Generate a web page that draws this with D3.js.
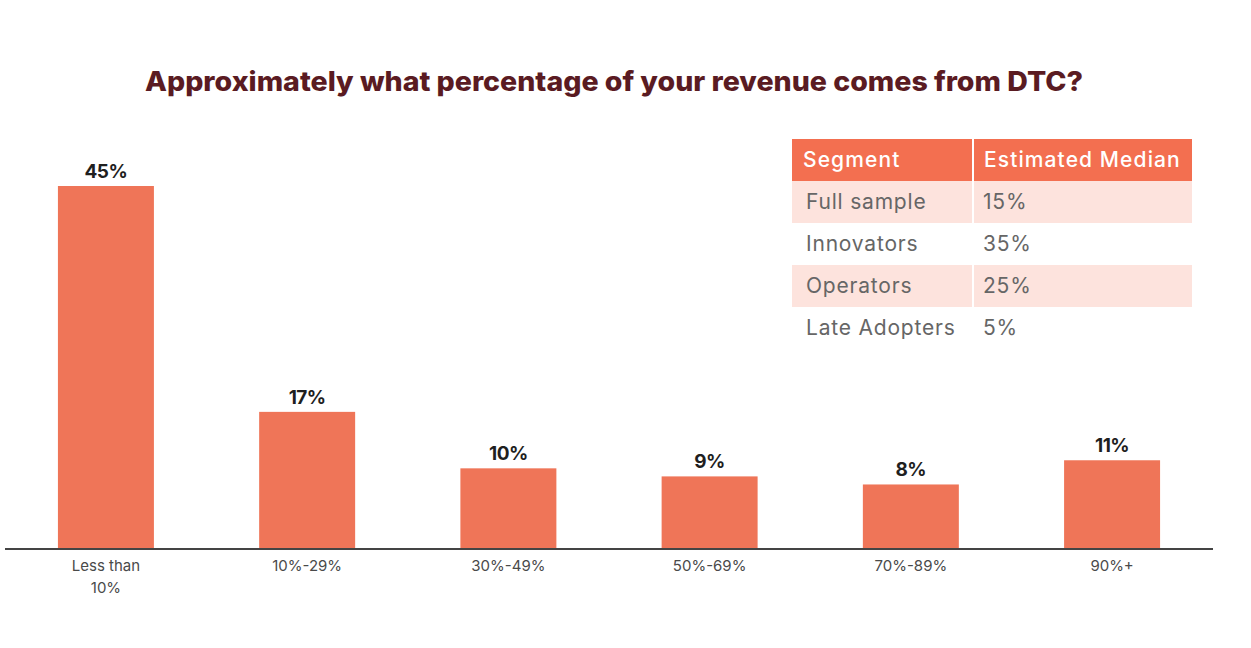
<!DOCTYPE html>
<html>
<head>
<meta charset="utf-8">
<script src="https://cdn.jsdelivr.net/npm/d3@7"></script>
<style>
  html, body { margin: 0; padding: 0; background: #ffffff; }
  svg { display: block; }
</style>
</head>
<body>
<div id="chart"></div>
<script>
// ---- Data ----
const titleText = "Approximately what percentage of your revenue comes from DTC?";
const categories = ["Less than\n10%", "10%-29%", "30%-49%", "50%-69%", "70%-89%", "90%+"];
const shares = [45, 17, 10, 9, 8, 11];
const valueLabels = ["45%", "17%", "10%", "9%", "8%", "11%"];
const tableHeader = ["Segment", "Estimated Median"];
const segments = ["Full sample", "Innovators", "Operators", "Late Adopters"];
const medians = ["15%", "35%", "25%", "5%"];

// ---- Layout ----
const W = 1251, H = 648;
const FONT = "Inter, 'Open Sans', 'Noto Sans', sans-serif";
const barColor = "#EF7558";
const headerColor = "#F36F50";
const stripeColor = "#FDE3DD";

const svg = d3.select("#chart").append("svg")
  .attr("width", W).attr("height", H);

// Title
svg.append("text")
  .attr("x", 614).attr("y", 91)
  .attr("text-anchor", "middle")
  .attr("font-family", FONT)
  .attr("font-weight", 800)
  .attr("font-size", 27)
  .attr("fill", "#5A1B22")
  .attr("textLength", 938)
  .attr("lengthAdjust", "spacingAndGlyphs")
  .text(titleText);

// Scales
const axisY = 549;
const x = d3.scaleBand()
  .domain(categories)
  .range([5, 1213])
  .paddingInner(0.523)
  .paddingOuter(0.263);

const y = d3.scaleLinear()
  .domain([0, 45])
  .range([axisY, 186]);

// Bars
const g = svg.append("g");
g.selectAll("rect.bar")
  .data(shares)
  .join("rect")
  .attr("class", "bar")
  .attr("x", (d, i) => x(categories[i]))
  .attr("y", d => y(d))
  .attr("width", x.bandwidth())
  .attr("height", d => axisY - y(d))
  .attr("fill", barColor);

// Value labels
g.selectAll("text.val")
  .data(shares)
  .join("text")
  .attr("class", "val")
  .attr("x", (d, i) => x(categories[i]) + x.bandwidth() / 2)
  .attr("y", d => y(d) - 8)
  .attr("text-anchor", "middle")
  .attr("font-family", FONT)
  .attr("font-weight", 700)
  .attr("font-size", 19)
  .attr("letter-spacing", -0.5)
  .attr("fill", "#1f1f1f")
  .text((d, i) => valueLabels[i]);

// X axis
const xAxis = d3.axisBottom(x).tickSize(0).tickPadding(0).tickFormat("");
const axG = svg.append("g")
  .attr("transform", `translate(0,${axisY})`)
  .call(xAxis);
axG.select(".domain")
  .attr("d", "M5,0H1213")
  .attr("stroke", "#444")
  .attr("stroke-width", 2);

// Category labels (multi-line)
axG.selectAll(".tick").each(function(d) {
  const t = d3.select(this).append("text")
    .attr("text-anchor", "middle")
    .attr("font-family", FONT)
    .attr("font-size", 15)
    .attr("fill", "#4a4a4a");
  d.split("\n").forEach((line, k) => {
    t.append("tspan").attr("x", 0).attr("y", 22 + k * 22).text(line);
  });
});

// Table
const tx0 = 792, tCol = 973, tx1 = 1192, tTop = 139, rowH = 42;
const tg = svg.append("g");
tg.append("rect").attr("x", tx0).attr("y", tTop).attr("width", tCol - tx0 - 1).attr("height", rowH).attr("fill", headerColor);
tg.append("rect").attr("x", tCol + 1).attr("y", tTop).attr("width", tx1 - tCol - 1).attr("height", rowH).attr("fill", headerColor);
tg.selectAll("text.hdr")
  .data(tableHeader)
  .join("text")
  .attr("class", "hdr")
  .attr("x", (d, i) => i === 0 ? 803 : 984)
  .attr("y", tTop + 28)
  .attr("font-family", FONT)
  .attr("font-weight", 500)
  .attr("font-size", 21)
  .attr("letter-spacing", 1.1)
  .attr("fill", "#ffffff")
  .text(d => d);

segments.forEach((s, i) => {
  const ry = tTop + rowH * (i + 1);
  if (i % 2 === 0) {
    tg.append("rect").attr("x", tx0).attr("y", ry).attr("width", tCol - tx0 - 1).attr("height", rowH).attr("fill", stripeColor);
    tg.append("rect").attr("x", tCol + 1).attr("y", ry).attr("width", tx1 - tCol - 1).attr("height", rowH).attr("fill", stripeColor);
  }
  tg.append("text")
    .attr("x", 806).attr("y", ry + 28)
    .attr("font-family", FONT).attr("font-size", 21).attr("letter-spacing", 0.8).attr("fill", "#666")
    .text(s);
  tg.append("text")
    .attr("x", 983).attr("y", ry + 28)
    .attr("font-family", FONT).attr("font-size", 21).attr("letter-spacing", 0.8).attr("fill", "#666")
    .text(medians[i]);
});
</script>
</body>
</html>
